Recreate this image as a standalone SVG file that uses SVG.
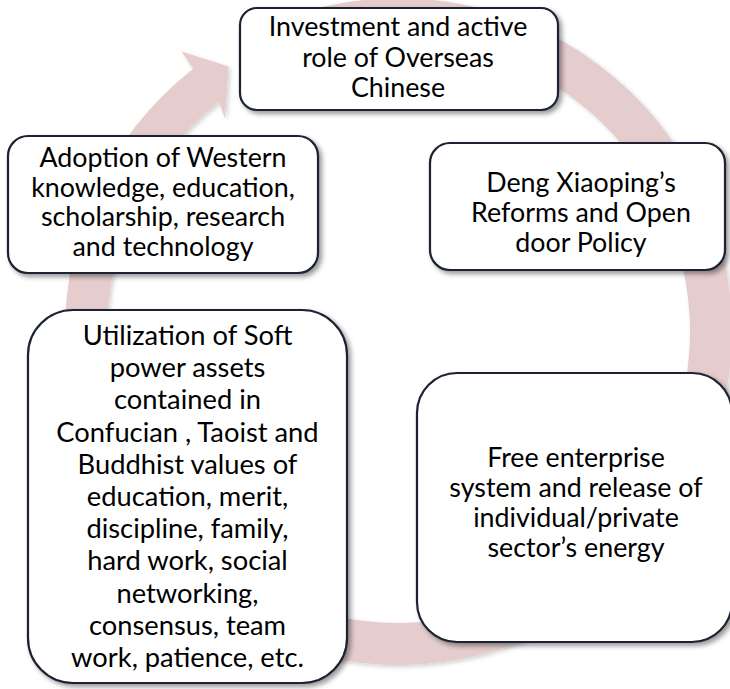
<svg xmlns="http://www.w3.org/2000/svg" width="730" height="689" viewBox="0 0 730 689">
  <defs>
    <filter id="shadow" x="-10%" y="-10%" width="125%" height="125%">
      <feDropShadow dx="3" dy="3" stdDeviation="2.5" flood-color="#000" flood-opacity="0.4"/>
    </filter>
    <filter id="ringShadow" x="-10%" y="-10%" width="125%" height="125%">
      <feDropShadow dx="2" dy="2" stdDeviation="2" flood-color="#000" flood-opacity="0.18"/>
    </filter>
  </defs>
  <style>
    .box { fill: #ffffff; stroke: #1b2431; stroke-width: 2.2; filter: url(#shadow); }
    .t { font-family: Lato, "Open Sans", "Liberation Sans", sans-serif; font-size: 26.8px; fill: #000; text-anchor: middle; }
    .tb { font-size: 27.3px; }
    .ring { fill: #e5cccd; filter: url(#ringShadow); }
  </style>

  <g id="connectors">
    <path class="ring" d="M 284.44 18.11 A 333.5 333.5 0 1 1 193.18 68.70 L 181.5 51.5 L 228.5 66.5 L 225 118.5 L 219.04 101.79 A 291.5 291.5 0 1 0 298.80 57.58 Z"/>
  </g>

  <g id="node-overseas">
    <rect class="box" x="240" y="8" width="318" height="102" rx="17" ry="17"/>
    <text class="t" x="398" y="36">Investment and active</text>
    <text class="t" x="398" y="66.5">role of Overseas</text>
    <text class="t" x="398" y="97">Chinese</text>
  </g>

  <g id="node-western">
    <rect class="box" x="8" y="136" width="310" height="137" rx="20" ry="20"/>
    <text class="t" x="163" y="167">Adoption of Western</text>
    <text class="t" x="163" y="196.5">knowledge, education,</text>
    <text class="t" x="163" y="226">scholarship, research</text>
    <text class="t" x="163" y="255.5">and technology</text>
  </g>

  <g id="node-deng">
    <rect class="box" x="430" y="143" width="295" height="127" rx="20" ry="20"/>
    <text class="t" x="581" y="192">Deng Xiaoping’s</text>
    <text class="t" x="581" y="222">Reforms and Open</text>
    <text class="t" x="581" y="252">door Policy</text>
  </g>

  <g id="node-softpower">
    <rect class="box" x="28" y="310" width="319" height="373" rx="45" ry="45"/>
    <text class="t tb" x="187.5" y="345">Utilization of Soft</text>
    <text class="t tb" x="187.5" y="377.2">power assets</text>
    <text class="t tb" x="187.5" y="409.4">contained in</text>
    <text class="t tb" x="187.5" y="441.6">Confucian , Taoist and</text>
    <text class="t tb" x="187.5" y="473.8">Buddhist values of</text>
    <text class="t tb" x="187.5" y="506">education, merit,</text>
    <text class="t tb" x="187.5" y="538.2">discipline, family,</text>
    <text class="t tb" x="187.5" y="570.4">hard work, social</text>
    <text class="t tb" x="187.5" y="602.6">networking,</text>
    <text class="t tb" x="187.5" y="634.8">consensus, team</text>
    <text class="t tb" x="187.5" y="667">work, patience, etc.</text>
  </g>

  <g id="node-enterprise">
    <rect class="box" x="417" y="373" width="315" height="269" rx="40" ry="40"/>
    <text class="t" x="576" y="466.7">Free enterprise</text>
    <text class="t" x="576" y="496.7">system and release of</text>
    <text class="t" x="576" y="526.7">individual/private</text>
    <text class="t" x="576" y="556.7">sector’s energy</text>
  </g>
</svg>
